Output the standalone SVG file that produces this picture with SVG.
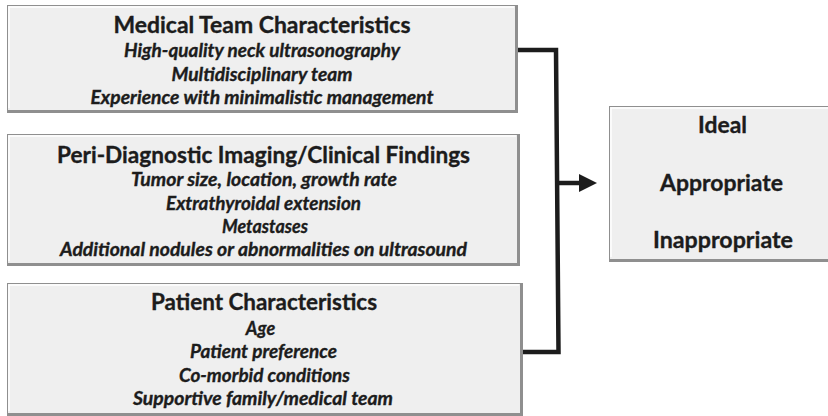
<svg xmlns="http://www.w3.org/2000/svg" width="828" height="416" viewBox="0 0 828 416">
<defs>
<style>
.sh{fill:#8f8f8f}
.bx{fill:#efefef}
.hl{fill:none;stroke:#ffffff;stroke-width:1.5}
.t{font-family:Lato,"Open Sans","Liberation Sans",sans-serif;font-weight:bold;fill:#1c1c1c;stroke:#1c1c1c;stroke-width:0.35;text-anchor:middle}
.h{font-size:23px}
.i{font-size:18px;font-style:italic}
.r{font-size:23px}
.c{fill:none;stroke:#1c1c1c;stroke-width:4.5;stroke-linejoin:miter}
</style>
<marker id="ah" viewBox="0 0 10 10" refX="0" refY="5" markerWidth="4" markerHeight="4.4" orient="auto" markerUnits="strokeWidth">
<path d="M0,0 L10,5 L0,10 Z" fill="#1c1c1c"/>
</marker>
</defs>
<rect width="828" height="416" fill="#ffffff"/>
<g id="medical-team">
<rect class="sh" x="7" y="5" width="511" height="108"/>
<rect class="bx" x="8" y="6" width="507" height="104"/>
<path class="hl" d="M9,108 V7 H514"/>
<text class="t h" x="262" y="33" textLength="297" lengthAdjust="spacingAndGlyphs">Medical Team Characteristics</text>
<text class="t i" x="262" y="57" textLength="276" lengthAdjust="spacingAndGlyphs">High-quality neck ultrasonography</text>
<text class="t i" x="262" y="80.5" textLength="181" lengthAdjust="spacingAndGlyphs">Multidisciplinary team</text>
<text class="t i" x="262" y="104" textLength="343" lengthAdjust="spacingAndGlyphs">Experience with minimalistic management</text>
</g>
<g id="imaging-findings">
<rect class="sh" x="7" y="134" width="513" height="132"/>
<rect class="bx" x="8" y="135" width="509" height="128"/>
<path class="hl" d="M9,261 V136 H516"/>
<text class="t h" x="263.5" y="162.5" textLength="413" lengthAdjust="spacingAndGlyphs">Peri-Diagnostic Imaging/Clinical Findings</text>
<text class="t i" x="264" y="186" textLength="266" lengthAdjust="spacingAndGlyphs">Tumor size, location, growth rate</text>
<text class="t i" x="263.5" y="210" textLength="195" lengthAdjust="spacingAndGlyphs">Extrathyroidal extension</text>
<text class="t i" x="265" y="233" textLength="86" lengthAdjust="spacingAndGlyphs">Metastases</text>
<text class="t i" x="263.5" y="256" textLength="407" lengthAdjust="spacingAndGlyphs">Additional nodules or abnormalities on ultrasound</text>
</g>
<g id="patient">
<rect class="sh" x="7" y="283" width="516" height="133"/>
<rect class="bx" x="8" y="284" width="512" height="129"/>
<path class="hl" d="M9,411 V285 H519"/>
<text class="t h" x="264" y="310" textLength="226" lengthAdjust="spacingAndGlyphs">Patient Characteristics</text>
<text class="t i" x="260.5" y="335">Age</text>
<text class="t i" x="263.5" y="358" textLength="147" lengthAdjust="spacingAndGlyphs">Patient preference</text>
<text class="t i" x="264.5" y="382" textLength="171" lengthAdjust="spacingAndGlyphs">Co-morbid conditions</text>
<text class="t i" x="263" y="405" textLength="260" lengthAdjust="spacingAndGlyphs">Supportive family/medical team</text>
</g>
<g id="outcome">
<rect class="sh" x="609" y="106" width="219" height="156"/>
<rect class="bx" x="610" y="107" width="218" height="152"/>
<path class="hl" d="M611,257 V108 H828"/>
<text class="t r" x="722.5" y="133" textLength="49" lengthAdjust="spacingAndGlyphs">Ideal</text>
<text class="t r" x="721.5" y="191" textLength="123" lengthAdjust="spacingAndGlyphs">Appropriate</text>
<text class="t r" x="723" y="248" textLength="140" lengthAdjust="spacingAndGlyphs">Inappropriate</text>
</g>
<g id="connectors">
<path class="c" d="M518,50 H556 L558.5,352 H523"/>
<path class="c" d="M557,183 H579" marker-end="url(#ah)"/>
</g>
</svg>
